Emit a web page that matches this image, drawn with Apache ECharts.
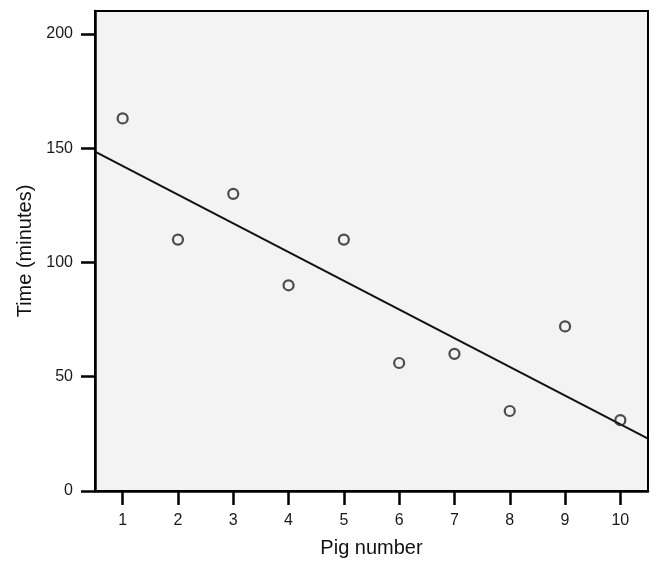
<!DOCTYPE html>
<html>
<head>
<meta charset="utf-8">
<script src="https://cdn.jsdelivr.net/npm/echarts@6/dist/echarts.min.js"></script>
<style>
html,body{margin:0;padding:0;background:#fff;}
#chart{width:658px;height:563px;}
</style>
</head>
<body>
<div id="chart"></div>
<script>
// Data
const pigNumbers = [1, 2, 3, 4, 5, 6, 7, 8, 9, 10];
const timeMinutes = [163, 110, 130, 90, 110, 56, 60, 35, 72, 31];
// Fitted line endpoints (x, y)
const fitLineX = [0.5, 10.5];
const fitLineY = [148.5, 22.9];
const xTickValues = [1, 2, 3, 4, 5, 6, 7, 8, 9, 10];
const yTickValues = [0, 50, 100, 150, 200];

const points = pigNumbers.map((p, i) => [p, timeMinutes[i]]);
const fitLine = fitLineX.map((x, i) => [x, fitLineY[i]]);

const chart = echarts.init(document.getElementById('chart'), null, {renderer: 'canvas'});
const font = 'Liberation Sans, Arial, sans-serif';
chart.setOption({
  animation: false,
  backgroundColor: '#ffffff',
  grid: {
    left: 95, right: 10, top: 11, bottom: 71,
    show: true,
    backgroundColor: '#f3f3f3',
    borderColor: '#000',
    borderWidth: 2
  },
  xAxis: {
    type: 'value',
    min: 0.5,
    max: 10.5,
    name: 'Pig number',
    nameLocation: 'middle',
    nameGap: 47,
    nameTextStyle: {fontFamily: font, fontSize: 20, color: '#111'},
    axisLine: {show: true, onZero: false, lineStyle: {color: '#000', width: 2.5}},
    axisTick: {show: true, length: 14, lineStyle: {color: '#000', width: 2.5}, customValues: xTickValues},
    axisLabel: {show: true, fontFamily: font, fontSize: 16, color: '#1a1a1a', margin: 22, customValues: xTickValues},
    splitLine: {show: false}
  },
  yAxis: {
    type: 'value',
    min: 0,
    max: 210,
    name: 'Time (minutes)',
    nameLocation: 'middle',
    nameGap: 60,
    nameTextStyle: {fontFamily: font, fontSize: 20, color: '#111'},
    axisLine: {show: true, onZero: false, lineStyle: {color: '#000', width: 2.5}},
    axisTick: {show: true, length: 14, lineStyle: {color: '#000', width: 2.5}, customValues: yTickValues},
    axisLabel: {show: true, fontFamily: font, fontSize: 16, color: '#1a1a1a', margin: 22, customValues: yTickValues},
    splitLine: {show: false}
  },
  series: [
    {
      type: 'line',
      data: fitLine,
      symbol: 'none',
      lineStyle: {color: '#111', width: 2},
      z: 2
    },
    {
      type: 'scatter',
      data: points,
      symbol: 'circle',
      symbolSize: 10,
      itemStyle: {color: 'rgba(0,0,0,0)', borderColor: '#222', borderWidth: 2.2},
      z: 3
    }
  ]
});
</script>
</body>
</html>
